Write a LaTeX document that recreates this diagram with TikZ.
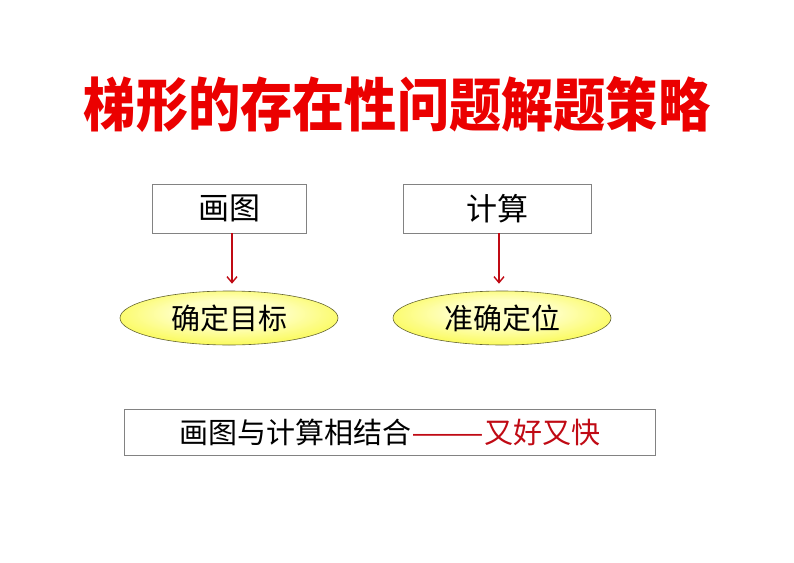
\documentclass[tikz,border=0pt]{standalone}
\usepackage{fontspec}
\newfontfamily\cjk{Noto Sans CJK SC}
\usetikzlibrary{arrows.meta,shapes.geometric}
\definecolor{titlered}{RGB}{235,0,0}
\definecolor{darkred}{RGB}{192,10,20}
\definecolor{boxgray}{RGB}{130,130,130}
\definecolor{ellin}{RGB}{255,255,195}
\definecolor{ellmid}{RGB}{250,250,80}
\definecolor{ellout}{RGB}{220,220,5}
\definecolor{ellline}{RGB}{100,100,50}
\pgfdeclareradialshading{ellshade}{\pgfpoint{0bp}{6bp}}{%
  color(0bp)=(ellin); color(12bp)=(ellin); color(30bp)=(ellmid); color(48bp)=(ellout); color(60bp)=(ellout)}
\tikzset{
  rectbox/.style={draw=boxgray, line width=0.8pt, fill=white, inner sep=0pt, font=\cjk\fontsize{31}{33}\selectfont},
  goal/.style={ellipse, draw=ellline, line width=0.6pt, shading=ellshade, inner sep=0pt,
    minimum width=218pt, minimum height=54pt, font=\cjk\fontsize{29}{31}\selectfont},
  redarrow/.style={draw=darkred, line width=1.6pt, -{Straight Barb[length=6pt,width=10pt,line width=1.4pt]}, shorten >=7pt}
}
\begin{document}
\begin{tikzpicture}[x=1pt,y=-1pt]
\fill[white] (0,0) rectangle (794,562);
\useasboundingbox (0,0) rectangle (794,562);
\node (title) at (397,104) {\cjk\bfseries\color{titlered}\scalebox{0.9}[1]{\fontsize{58}{60}\selectfont 梯形的存在性问题解题策略}};
\node[rectbox, minimum width=154pt, minimum height=49pt] (draw) at (229,208.5) {画图};
\node[rectbox, minimum width=188pt, minimum height=49pt] (calc) at (497,208.5) {计算};
\node[goal] (target) at (229,318) {确定目标};
\node[goal] (locate) at (502,318) {准确定位};
\draw[redarrow] (draw.south -| 232,0) -- (target.north -| 232,0);
\draw[redarrow] (calc.south -| 499,0) -- (locate.north -| 499,0);
\node[draw=boxgray, line width=0.8pt, minimum width=531pt, minimum height=46pt, inner sep=0pt,
  font=\cjk\fontsize{29}{31}\selectfont] (sum) at (390,432) {画图与计算相结合\textcolor{darkred}{\scalebox{1.5}[1]{——}又好又快}};
\end{tikzpicture}
\end{document}
